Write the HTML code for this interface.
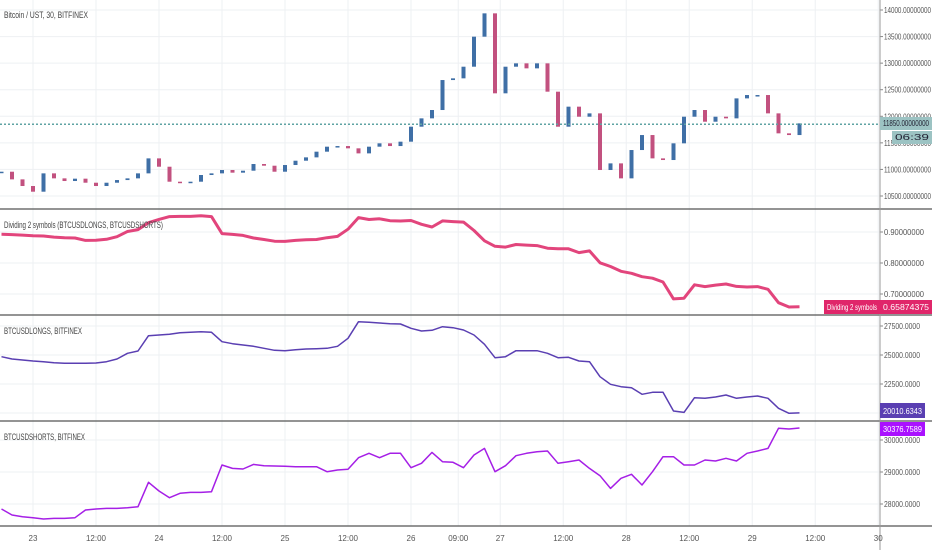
<!DOCTYPE html>
<html><head><meta charset="utf-8"><style>
html,body{margin:0;padding:0;background:#fff;}
svg{display:block;font-family:"Liberation Sans",sans-serif;}
</style></head><body>
<svg id="c" width="932" height="550" viewBox="0 0 932 550"></svg>
<script>
// ---- data (2-hour steps) ----
const hours = [];
for (let i = 0; i < 77; i++) hours.push(-6 + 2 * i);
const btcClose = [10957,10813,10688,10581,10926,10832,10782,10826,10750,10688,10750,10800,10832,10926,11208,11051,10769,10750,10769,10895,10926,10989,10939,10976,11102,11070,10957,11083,11164,11227,11334,11428,11440,11397,11302,11428,11491,11440,11522,11804,11961,12118,12682,12714,12933,13498,13937,12432,12933,12996,12902,12996,12463,11804,12181,11992,12055,10989,11114,10832,11365,11647,11208,11177,11491,11992,12118,11898,11992,11961,12337,12400,12400,12055,11679,11647,11867];
const longs = [24856,24655,24569,24482,24425,24339,24281,24281,24281,24310,24425,24655,25143,25345,26667,26724,26781,26925,26954,27011,26954,26149,25977,25862,25747,25574,25402,25373,25459,25517,25546,25574,25747,26437,27874,27816,27759,27701,27672,27299,27069,27126,27443,27356,27155,26724,25919,24770,24856,25373,25373,25373,25143,24770,24799,24482,24425,23131,22471,22269,22183,21609,21781,21781,20171,20056,21321,21264,21379,21551,21264,21379,21465,21264,20401,19970,20010];
const shorts = [27843,27655,27603,27572,27530,27551,27551,27572,27812,27843,27864,27864,27885,27916,28677,28406,28197,28333,28364,28364,28385,29219,29114,29093,29239,29198,29187,29177,29166,29166,29166,29010,29062,29083,29448,29583,29448,29583,29583,29135,29271,29614,29323,29302,29135,29531,29739,29010,29198,29510,29583,29635,29656,29271,29323,29375,29114,28885,28489,28802,28927,28593,29010,29479,29479,29219,29219,29375,29343,29427,29343,29583,29656,29739,30365,30344,30376];
const priceTicks = [10500,11000,11500,12000,12500,13000,13500,14000];
const ratioTicks = [0.7,0.8,0.9];
const longTicks = [20000,22500,25000,27500];
const shortTicks = [28000,29000,30000];
const timeLabels = ["23","12:00","24","12:00","25","12:00","26","09:00","27","12:00","28","12:00","29","12:00","30"];
const timeLabelHours = [0,12,24,36,48,60,72,81,89,101,113,125,137,149,161];

// ---- scales ----
const PW = 880;
const xH = h => 33 + h * 5.25;
const yP = v => 10 + (14000 - v) * 186 / 3500;
const yR = v => 232 + (0.9 - v) * 310;
const yL = v => 326 + (27500 - v) * 29 / 2500;
const yS = v => 440 + (30000 - v) * 32 / 1000;
const svg = document.getElementById('c');
const NS = 'http://www.w3.org/2000/svg';
function mk(tag, attrs, parent) {
  const e = document.createElementNS(NS, tag);
  for (const k in attrs) e.setAttribute(k, attrs[k]);
  (parent || svg).appendChild(e);
  return e;
}
function txt(x, y, s, attrs) {
  const t = mk('text', Object.assign({x: x, y: y, 'font-size': 9, fill: '#555'}, attrs || {}));
  t.textContent = s;
  return t;
}

// vertical grid
timeLabelHours.forEach(h => {
  const l = mk('line', {x1: xH(h), x2: xH(h), y1: 0, y2: 526, stroke: '#eef0f3', 'stroke-width': 1});
  
  
});
// horizontal grids + tick labels
function hgrid(ticks, f, fmt, name, tl) {
  ticks.forEach(v => {
    const y = f(v);
    const l = mk('line', {x1: 0, x2: PW, y1: y, y2: y, stroke: '#eef0f3'});
    
    
    mk('line', {x1: PW, x2: PW + 3, y1: y, y2: y, stroke: '#888'});
    const t = txt(PW + 4, y + 3, fmt(v), {'font-size': 8, fill: '#555', textLength: tl, lengthAdjust: 'spacingAndGlyphs'});
    
    
  });
}
hgrid(priceTicks, yP, v => v.toFixed(8), 'price', 47);
hgrid(ratioTicks, yR, v => v.toFixed(8), 'ratio', 40);
hgrid(longTicks, yL, v => v.toFixed(4), 'longs', 36);
hgrid(shortTicks, yS, v => v.toFixed(4), 'shorts', 36);

// candles
const cw = 4;
btcClose.forEach((c, i) => {
  const o = i === 0 ? c : btcClose[i - 1];
  const x = xH(hours[i]);
  const up = c >= o;
  const col = up ? '#3f6fa6' : '#c2517f';
  const y1 = yP(Math.max(o, c)), y2 = yP(Math.min(o, c));
  const r = mk('rect', {x: x - cw / 2, y: y1, width: cw, height: Math.max(1.5, y2 - y1), fill: col});
  
  
});
// current price dotted line
mk('line', {x1: 0, x2: PW, y1: yP(11850), y2: yP(11850), stroke: '#5fa3a3', 'stroke-width': 1.5, 'stroke-dasharray': '2,2'});

// lines
function line(vals, f, col, w, name) {
  const d = vals.map((v, i) => (i ? 'L' : 'M') + xH(hours[i]).toFixed(1) + ',' + f(v).toFixed(1)).join('');
  const p = mk('path', {d: d, fill: 'none', stroke: col, 'stroke-width': w, 'stroke-linejoin': 'round'});
  
  
}
const ratio = longs.map((v, i) => v / shorts[i]);
line(ratio, yR, '#e2457c', 3, 'ratio-line');
line(longs, yL, '#5a3fb2', 1.5, 'longs-line');
line(shorts, yS, '#a51fe6', 1.5, 'shorts-line');

// panel separators & axes
[209, 315, 421, 526].forEach(y => mk('line', {x1: 0, x2: 932, y1: y, y2: y, stroke: '#555', 'stroke-width': 1.2}));
mk('line', {x1: PW, x2: PW, y1: 0, y2: 550, stroke: '#999'});

// time labels
timeLabels.forEach((s, i) => {
  const t = txt(xH(timeLabelHours[i]), 541, s, {'text-anchor': 'middle', 'font-size': 8});
  
  
});

// titles
function title(x, y, s, name, tl) {
  const t = txt(x, y, s, {'font-size': 9, fill: '#444', textLength: tl, lengthAdjust: 'spacingAndGlyphs'});
  
  
}
title(4, 18, 'Bitcoin / UST, 30, BITFINEX', 'price-title', 84);
title(4, 228, 'Dividing 2 symbols (BTCUSDLONGS, BTCUSDSHORTS)', 'ratio-title', 159);
title(4, 334, 'BTCUSDLONGS, BITFINEX', 'longs-title', 78);
title(4, 440, 'BTCUSDSHORTS, BITFINEX', 'shorts-title', 81);

// value tags
function tag(x, y, w, h, bg, s, fg, name) {
  const g = mk('g', {});
  
  
  mk('rect', {x: x, y: y, width: w, height: h, fill: bg}, g);
  const t = mk('text', {x: x + 3, y: y + h - 4, 'font-size': 8, fill: fg, textLength: w - 6, lengthAdjust: 'spacingAndGlyphs'}, g);
  t.textContent = s;
}
tag(880, 117, 52, 13, '#9cc3c3', '11850.00000000', '#223', 'price-tag');
tag(892, 131, 40, 13, '#9cc3c3', '06:39', '#223', 'countdown-tag');
tag(824, 300, 56, 14, '#e0266a', 'Dividing 2 symbols', '#fff', 'ratio-name-tag');
tag(880, 300, 52, 14, '#e0266a', ratio[ratio.length - 1].toFixed(8), '#fff', 'ratio-tag');
tag(880, 403, 45, 15, '#5a3fb2', '20010.6343', '#fff', 'longs-tag');
tag(880, 422, 45, 14, '#aa11ff', '30376.7589', '#fff', 'shorts-tag');
</script>
</body></html>
